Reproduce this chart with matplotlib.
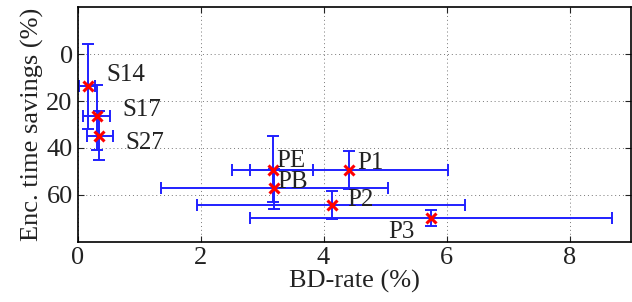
import numpy as np
import matplotlib
matplotlib.use('Agg')
import matplotlib.pyplot as plt

plt.rcParams['font.family'] = ['Liberation Serif', 'DejaVu Serif']

# Данные: BD-rate и экономия времени кодирования
names = ['S14', 'S17', 'S27', 'PE', 'PB', 'P1', 'P2', 'P3']
bd = np.array([0.17, 0.31, 0.35, 3.17, 3.19, 4.42, 4.13, 5.74])
bd_lo = np.array([0.02, 0.09, 0.15, 2.51, 1.36, 2.80, 1.94, 2.80])
bd_hi = np.array([0.29, 0.52, 0.58, 3.83, 5.04, 6.03, 6.30, 8.69])
ts = np.array([13.6, 26.5, 34.7, 49.4, 57.2, 49.4, 64.2, 69.6])
ts_lo = np.array([-4.1, 13.1, 24.4, 35.0, 49.0, 41.4, 58.3, 66.4])
ts_hi = np.array([31.8, 40.7, 44.9, 63.0, 65.8, 57.3, 70.3, 73.2])

# Положение подписей
lab_x = [0.47, 0.72, 0.77, 3.23, 3.25, 4.55, 4.39, 5.05]
lab_y = [8.9, 24.0, 37.7, 45.6, 54.5, 46.3, 62.2, 75.7]

fig = plt.figure(figsize=(6.32, 3.02), dpi=100)
ax = fig.add_axes([0.1228, 0.1987, 0.8756, 0.7781])

xerr = np.vstack([bd - bd_lo, bd_hi - bd])
yerr = np.vstack([ts - ts_lo, ts_hi - ts])
ax.errorbar(bd, ts, xerr=xerr, yerr=yerr, fmt='none', ecolor='#2020ff',
            elinewidth=1.4, capsize=4.5, capthick=1.4, zorder=2)
ax.plot(bd, ts, 'x', color='red', markersize=7, markeredgewidth=2.2, zorder=3)

for name, x, y in zip(names, lab_x, lab_y):
    ax.text(x, y, name, fontsize=18, va='center', ha='left', color='#222222')

ax.set_xlim(0, 9)
ax.set_ylim(80, -20)
ax.set_xticks([0, 2, 4, 6, 8])
ax.set_yticks([0, 20, 40, 60])
ax.grid(True, linestyle=(0, (1, 3)), color='#777777', linewidth=0.7)
ax.tick_params(direction='in', top=True, right=True, labelsize=19, length=4,
               colors='#222222')
for s in ax.spines.values():
    s.set_linewidth(1.2)
ax.set_xlabel('BD-rate (%)', fontsize=19, labelpad=1, color='#222222')
ax.set_ylabel('Enc. time savings (%)', fontsize=19, labelpad=2, color='#222222')

plt.savefig('out.png', dpi=100)
